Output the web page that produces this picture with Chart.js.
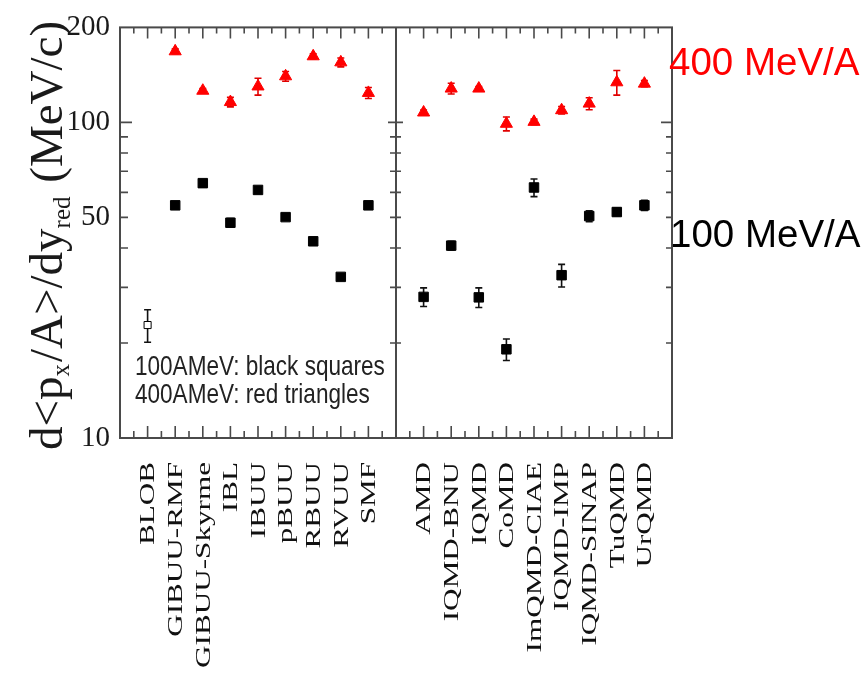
<!DOCTYPE html>
<html>
<head>
<meta charset="utf-8">
<script src="https://cdn.jsdelivr.net/npm/chart.js@4.4.0/dist/chart.umd.min.js"></script>
<style>
html,body{margin:0;padding:0;background:#fff;}
canvas{display:block;}
</style>
</head>
<body>
<canvas id="c" width="866" height="675"></canvas>
<script>
// ---- data ----
const modelsLeft  = ['BLOB','GIBUU-RMF','GIBUU-Skyrme','IBL','IBUU','pBUU','RBUU','RVUU','SMF'];
const modelsRight = ['AMD','IQMD-BNU','IQMD','CoMD','ImQMD-CIAE','IQMD-IMP','IQMD-SINAP','TuQMD','UrQMD'];
// 100 AMeV (black squares), same order as modelsLeft then modelsRight
const flow100 = [22.8, 54.6, 64.2, 48.1, 61.1, 50.1, 42.0, 32.4, 54.6,
                 28.0, 40.7, 27.9, 19.1, 62.2, 32.8, 50.5, 52.0, 54.6];
const err100  = [2.7, 1.0, 1.5, 1.5, 1.0, 0.8, 1.2, 0.6, 1.5,
                 1.9, 1.3, 2.0, 1.5, 4.0, 2.7, 2.0, 1.5, 2.0];
// 400 AMeV (red triangles)
const flow400 = [null, 168, 126, 116, 130, 140, 162, 155, 124,
                 107.5, 128, 128, 99, 100.4, 109.3, 114.7, 134, 132.7];
const err400  = [null, 3, 2, 4, 8, 5, 3, 5, 5,
                 2, 5, 2, 5, 2, 3, 5, 12, 3];
const yTickLabels = [10, 50, 100, 200];
const yMajorTicks = [100];
const yMinorTicks = [20, 30, 40, 50, 60, 70, 80, 90];
const legendLines = ['100AMeV: black squares', '400AMeV: red triangles'];
const energyLabels = ['400 MeV/A', '100 MeV/A'];

// ---- derived ----
const categories = modelsLeft.concat(modelsRight);
const xPos = categories.map((_, i) => i < modelsLeft.length ? i + 1 : i + 2);
const divider = modelsLeft.length + 1;
const xMax = categories.length + 2;

const pts100 = flow100.map((v, i) => ({x: xPos[i], y: v, e: err100[i]}));
const pts400 = [];
flow400.forEach((v, i) => { if (v != null) pts400.push({x: xPos[i], y: v, e: err400[i]}); });

const FRAME = '#4a4a4a';

const figurePlugin = {
  id: 'figure',
  beforeDraw(chart) {
    const ctx = chart.ctx;
    ctx.save();
    ctx.fillStyle = '#fff';
    ctx.fillRect(0, 0, chart.width, chart.height);
    ctx.restore();
  },
  beforeDatasetsDraw(chart) {
    const ctx = chart.ctx, xs = chart.scales.x, ys = chart.scales.y;
    ctx.save();
    ctx.lineWidth = 1.6;
    chart.data.datasets.forEach(ds => {
      ctx.strokeStyle = ds.errColor;
      ds.data.forEach(p => {
        if (!p.e) return;
        const px = xs.getPixelForValue(p.x);
        const top = ys.getPixelForValue(p.y + p.e);
        const bot = ys.getPixelForValue(p.y - p.e);
        ctx.beginPath();
        ctx.moveTo(px, top); ctx.lineTo(px, bot);
        ctx.moveTo(px - 3.5, top); ctx.lineTo(px + 3.5, top);
        ctx.moveTo(px - 3.5, bot); ctx.lineTo(px + 3.5, bot);
        ctx.stroke();
      });
    });
    ctx.restore();
  },
  afterDraw(chart) {
    const ctx = chart.ctx, xs = chart.scales.x, ys = chart.scales.y;
    const a = chart.chartArea;
    ctx.save();
    // frame
    ctx.strokeStyle = FRAME;
    ctx.lineWidth = 2;
    ctx.strokeRect(a.left, a.top, a.right - a.left, a.bottom - a.top);
    const dx = xs.getPixelForValue(divider);
    ctx.beginPath(); ctx.moveTo(dx, a.top); ctx.lineTo(dx, a.bottom); ctx.stroke();
    // x ticks (top and bottom, inward)
    ctx.lineWidth = 1.6;
    ctx.beginPath();
    for (let v = 0.5; v < xMax; v += 0.5) {
      if (v === divider) continue;
      const major = Number.isInteger(v);
      const px = xs.getPixelForValue(v);
      const lt = major ? 11 : 6, lb = major ? 12 : 7;
      ctx.moveTo(px, a.top); ctx.lineTo(px, a.top + lt);
      ctx.moveTo(px, a.bottom); ctx.lineTo(px, a.bottom - lb);
    }
    // y ticks (left, divider, right)
    const yt = yMajorTicks.map(v => [v, true]).concat(yMinorTicks.map(v => [v, false]));
    yt.forEach(([v, major]) => {
      const py = ys.getPixelForValue(v);
      ctx.moveTo(a.left, py); ctx.lineTo(a.left + (major ? 12 : 8), py);
      ctx.moveTo(dx - (major ? 8 : 6), py); ctx.lineTo(dx + (major ? 7 : 5), py);
      ctx.moveTo(a.right, py); ctx.lineTo(a.right - (major ? 11 : 6), py);
    });
    ctx.stroke();

    // category labels (rotated, stretched serif)
    ctx.fillStyle = '#111';
    ctx.font = '20.5px "Liberation Serif", "DejaVu Serif", serif';
    ctx.textAlign = 'right';
    ctx.textBaseline = 'alphabetic';
    categories.forEach((c, i) => {
      const px = xs.getPixelForValue(xPos[i]);
      ctx.save();
      ctx.translate(px + 6.7, a.bottom + 24);
      ctx.rotate(-Math.PI / 2);
      ctx.scale(1.52, 1);
      ctx.fillText(c, 0, 0);
      ctx.restore();
    });

    // y-axis title with subscripts
    ctx.save();
    ctx.translate(62, 450);
    ctx.rotate(-Math.PI / 2);
    ctx.textAlign = 'left';
    ctx.fillStyle = '#1a1a1a';
    const big = '47px "Liberation Serif", serif', small = '25px "Liberation Serif", serif';
    const parts = [['d<p', big, 0], ['x', small, 7], ['/A>/dy', big, 0], ['red', small, 8], [' (MeV/c)', big, 0]];
    let tx = 0;
    parts.forEach(([t, f, off]) => {
      ctx.font = f;
      ctx.fillText(t, tx, off);
      tx += ctx.measureText(t).width;
      if (f === small) tx += 2;
    });
    ctx.restore();

    // in-plot legend text (narrow sans)
    ctx.fillStyle = '#222';
    ctx.font = '27.5px "Liberation Sans", Arial, sans-serif';
    ctx.textAlign = 'left';
    legendLines.forEach((t, i) => {
      ctx.save();
      ctx.translate(a.left + 15, 375 + i * 27.5);
      ctx.scale(0.82, 1);
      ctx.fillText(t, 0, 0);
      ctx.restore();
    });

    // energy labels on the right
    ctx.font = '38.5px "Liberation Sans", Arial, sans-serif';
    ctx.fillStyle = '#ff0000';
    ctx.fillText(energyLabels[0], a.right - 3, 75);
    ctx.fillStyle = '#000000';
    ctx.fillText(energyLabels[1], a.right - 2, 247);
    ctx.restore();
  }
};

new Chart(document.getElementById('c'), {
  type: 'scatter',
  data: {
    datasets: [
      {
        label: '400 AMeV',
        data: pts400,
        pointStyle: 'triangle',
        pointRadius: 7,
        pointHoverRadius: 7,
        backgroundColor: '#ff0000',
        borderColor: '#ff0000',
        borderWidth: 1,
        errColor: '#e00000',
        showLine: false
      },
      {
        label: '100 AMeV',
        data: pts100,
        pointStyle: 'rect',
        pointRadius: pts100.map((_, i) => i === 0 ? 5 : 6.7),
        pointHoverRadius: pts100.map((_, i) => i === 0 ? 5 : 6.7),
        backgroundColor: pts100.map((_, i) => i === 0 ? '#ffffff' : '#000000'),
        borderColor: '#000000',
        borderWidth: 1,
        errColor: '#111111',
        showLine: false
      }
    ]
  },
  options: {
    responsive: false,
    animation: false,
    events: [],
    layout: { padding: { left: 0, top: 22, right: 194, bottom: 237 } },
    plugins: { legend: { display: false }, tooltip: { enabled: false }, title: { display: false } },
    scales: {
      x: { type: 'linear', min: 0, max: xMax, display: false },
      y: {
        type: 'logarithmic', min: 10, max: 200, position: 'left',
        grid: { display: false, drawTicks: false, tickLength: 0 }, border: { display: false },
        afterBuildTicks: (s) => { s.ticks = yTickLabels.map(v => ({ value: v })); },
        afterFit: (s) => { s.width = 120; },
        ticks: {
          autoSkip: false, padding: 10, color: '#1a1a1a',
          font: { family: '"Liberation Serif", serif', size: 29 },
          callback: (v) => String(v)
        }
      }
    }
  },
  plugins: [figurePlugin]
});
</script>
</body>
</html>
